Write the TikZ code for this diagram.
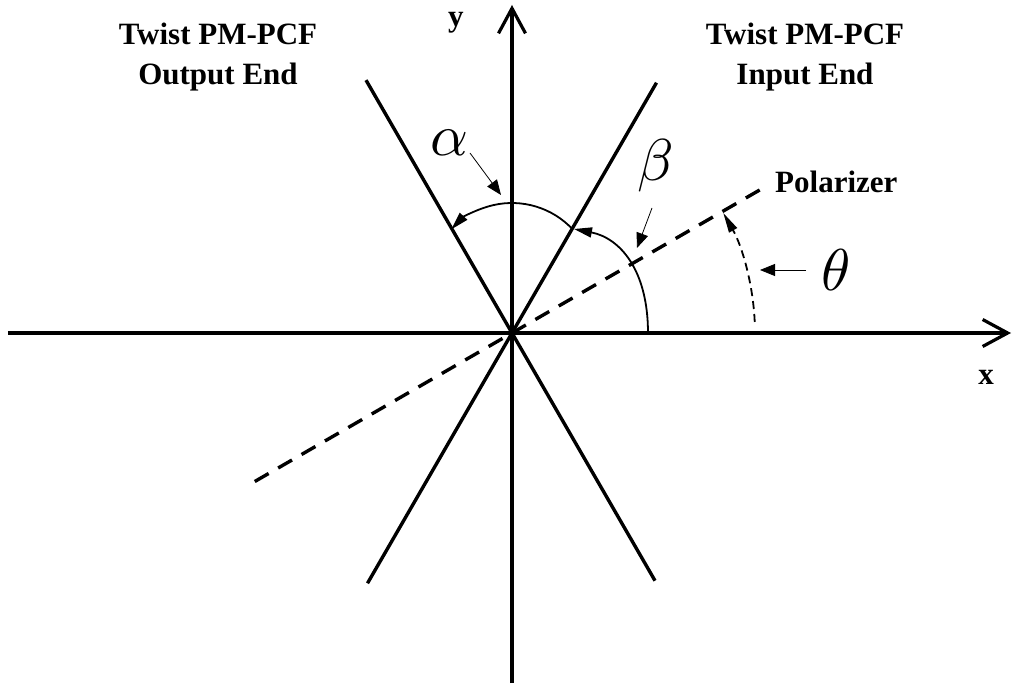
\documentclass[tikz,border=0pt]{standalone}
\usepackage{fontspec}
\setmainfont{Liberation Serif}
\usetikzlibrary{arrows.meta}
\tikzset{
  axisline/.style={line width=3.4pt, -{Straight Barb[length=25pt,width=27pt,line width=3.2pt]}},
  fiberline/.style={line width=3.4pt},
  polarline/.style={line width=3.4pt, dash pattern=on 16pt off 11pt},
  arcline/.style={line width=1.8pt, -{Triangle[length=18pt,width=10pt]}},
  thetaarc/.style={line width=1.8pt, dash pattern=on 8pt off 5pt, -{Triangle[length=20pt,width=9pt]}},
  pointer/.style={line width=0.8pt, -{Triangle[length=15pt,width=12pt]}},
  title/.style={font=\fontsize{31}{36}\selectfont\bfseries, inner sep=0pt, anchor=base},
  greek/.style={font=\fontsize{10}{12}\selectfont, inner sep=0pt, scale=5.9},
}
\begin{document}
\begin{tikzpicture}[x=1pt,y=1pt]
\useasboundingbox (-512,-352) rectangle (500,333);
\coordinate (O) at (0,0);
\coordinate (xs) at (-504,0);
\coordinate (xe) at (499,0);
\coordinate (ys) at (0,-350);
\coordinate (ye) at (0,328);
\draw[axisline] (xs) -- (xe);
\draw[axisline] (ys) -- (ye);
% fiber axes
\coordinate (f1a) at (120:292);
\coordinate (f1b) at (-60:286);
\coordinate (f2a) at (60:289);
\coordinate (f2b) at (240:289);
\draw[fiberline] (f1a) -- (f1b);
\draw[fiberline] (f2a) -- (f2b);
% polarizer
\coordinate (pa) at (210:297);
\coordinate (pb) at (30:291);
\draw[polarline] (pa) -- (pb);
% beta arc
\coordinate (b0) at (136,0);
\coordinate (b1) at (62,104);
\draw[arcline] (b0) .. controls (136,63) and (108,95) .. (b1);
% alpha arc
\coordinate (ac) at (0,47);
\draw[arcline] ([shift={(ac)}]43:83) arc[start angle=43,end angle=137,radius=83];
% theta arc
\coordinate (t0) at (2.6:243);
\draw[thetaarc] (t0) arc[start angle=2.6,end angle=29.6,radius=243];
% labels
\node[greek] (alpha) at (-63,190) {$\alpha$};
\node[greek] (beta) at (144,167) {$\beta$};
\node[greek] (theta) at (324,63) {$\theta$};
\coordinate (pa1) at (-42,180);
\coordinate (pa2) at (-11,138);
\coordinate (pb1) at (140,125);
\coordinate (pb2) at (125,85);
\coordinate (pt1) at (294,63);
\coordinate (pt2) at (248,63);
\draw[pointer] (pa1) -- (pa2);
\draw[pointer] (pb1) -- (pb2);
\draw[pointer] (pt1) -- (pt2);
\node[title] (tl1) at (-294,288) {Twist PM-PCF};
\node[title] (tl2) at (-294,248) {Output End};
\node[title] (tr1) at (293,288) {Twist PM-PCF};
\node[title] (tr2) at (293,248) {Input End};
\node[title, anchor=base west] (pol) at (263,140) {Polarizer};
\node[title] (ylab) at (-56,306) {y};
\node[title, anchor=center] (xlab) at (474,-44) {x};
\end{tikzpicture}
\end{document}
